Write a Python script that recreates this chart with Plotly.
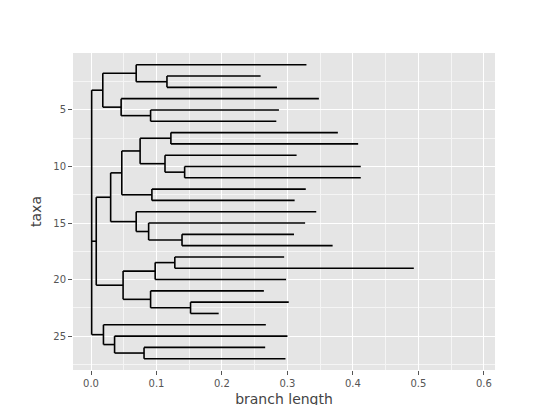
import plotly.graph_objects as go

# tip branch lengths (cumulative x of each leaf, taxa 1..27)
tip_x = [0.329, 0.259, 0.284, 0.348, 0.287, 0.283, 0.377, 0.408, 0.314, 0.412,
         0.412, 0.328, 0.311, 0.344, 0.327, 0.310, 0.369, 0.295, 0.493, 0.298,
         0.264, 0.302, 0.195, 0.267, 0.300, 0.266, 0.297]

# internal nodes: name -> children (ints are leaves), and node x
node_names = ['n23', 'n1_23', 'n56', 'n4_56', 'nA',
              'n78', 'n1011', 'n9_11', 'n7_11', 'n1213', 'n7_13',
              'n1617', 'n15_17', 'n14_17', 'n7_17',
              'n1819', 'n18_20', 'n2223', 'n21_23', 'n18_23', 'n7_23',
              'n2627', 'n25_27', 'n24_27', 'root']
node_children = [[2, 3], [1, 'n23'], [5, 6], [4, 'n56'], ['n1_23', 'n4_56'],
                 [7, 8], [10, 11], [9, 'n1011'], ['n78', 'n9_11'], [12, 13], ['n7_11', 'n1213'],
                 [16, 17], [15, 'n1617'], [14, 'n15_17'], ['n7_13', 'n14_17'],
                 [18, 19], ['n1819', 20], [22, 23], [21, 'n2223'], ['n18_20', 'n21_23'], ['n7_17', 'n18_23'],
                 [26, 27], [25, 'n2627'], [24, 'n25_27'], ['nA', 'n7_23', 'n24_27']]
node_x = [0.116, 0.069, 0.091, 0.046, 0.018,
          0.122, 0.143, 0.113, 0.075, 0.093, 0.047,
          0.139, 0.088, 0.069, 0.030,
          0.128, 0.098, 0.152, 0.091, 0.049, 0.008,
          0.081, 0.036, 0.019, 0.001]

pos = {i + 1: (tip_x[i], i + 1) for i in range(len(tip_x))}
for name, ch, x in zip(node_names, node_children, node_x):
    ys = [pos[c][1] for c in ch]
    pos[name] = (x, sum(ys) / len(ys))

xs, ys = [], []
for name, ch in zip(node_names, node_children):
    px, py = pos[name]
    cy = [pos[c][1] for c in ch]
    xs += [px, px, None]
    ys += [min(cy), max(cy), None]
    for c in ch:
        xs += [px, pos[c][0], None]
        ys += [pos[c][1], pos[c][1], None]
# root stub
rx, ry = pos['root']
xs += [0, rx, None]
ys += [ry, ry, None]

fig = go.Figure(go.Scatter(x=xs, y=ys, mode='lines',
                           line=dict(color='black', width=1.6), hoverinfo='skip'))

axis_common = dict(showgrid=True, gridcolor='white', gridwidth=1.2, automargin=False,
                   minor=dict(showgrid=True, gridcolor='#F5F5F5', gridwidth=0.6),
                   zeroline=False, ticks='outside', ticklen=4, tickcolor='#555',
                   tickfont=dict(size=10, color='#555'))
fig.update_layout(
    width=540, height=405,
    paper_bgcolor='white', plot_bgcolor='#E5E5E5',
    margin=dict(l=65, r=53, t=45, b=43),
    font=dict(family='DejaVu Sans'),
    showlegend=False,
    xaxis=dict(range=[-0.0275, 0.617], tickvals=[0, 0.1, 0.2, 0.3, 0.4, 0.5, 0.6],
               ticktext=['0.0', '0.1', '0.2', '0.3', '0.4', '0.5', '0.6'],
               title=dict(text='branch length', font=dict(size=14, color='#444'), standoff=6),
               **axis_common),
    yaxis=dict(range=[28.0, -0.04], tickvals=[5, 10, 15, 20, 25],
               title=dict(text='taxa', font=dict(size=14, color='#444'), standoff=8),
               **axis_common),
)
fig.update_xaxes(minor=dict(tickvals=[0.05, 0.15, 0.25, 0.35, 0.45, 0.55], ticks=''))
fig.update_yaxes(minor=dict(tickvals=[2.5, 7.5, 12.5, 17.5, 22.5, 27.5], ticks=''))

fig.write_html('out.html')
